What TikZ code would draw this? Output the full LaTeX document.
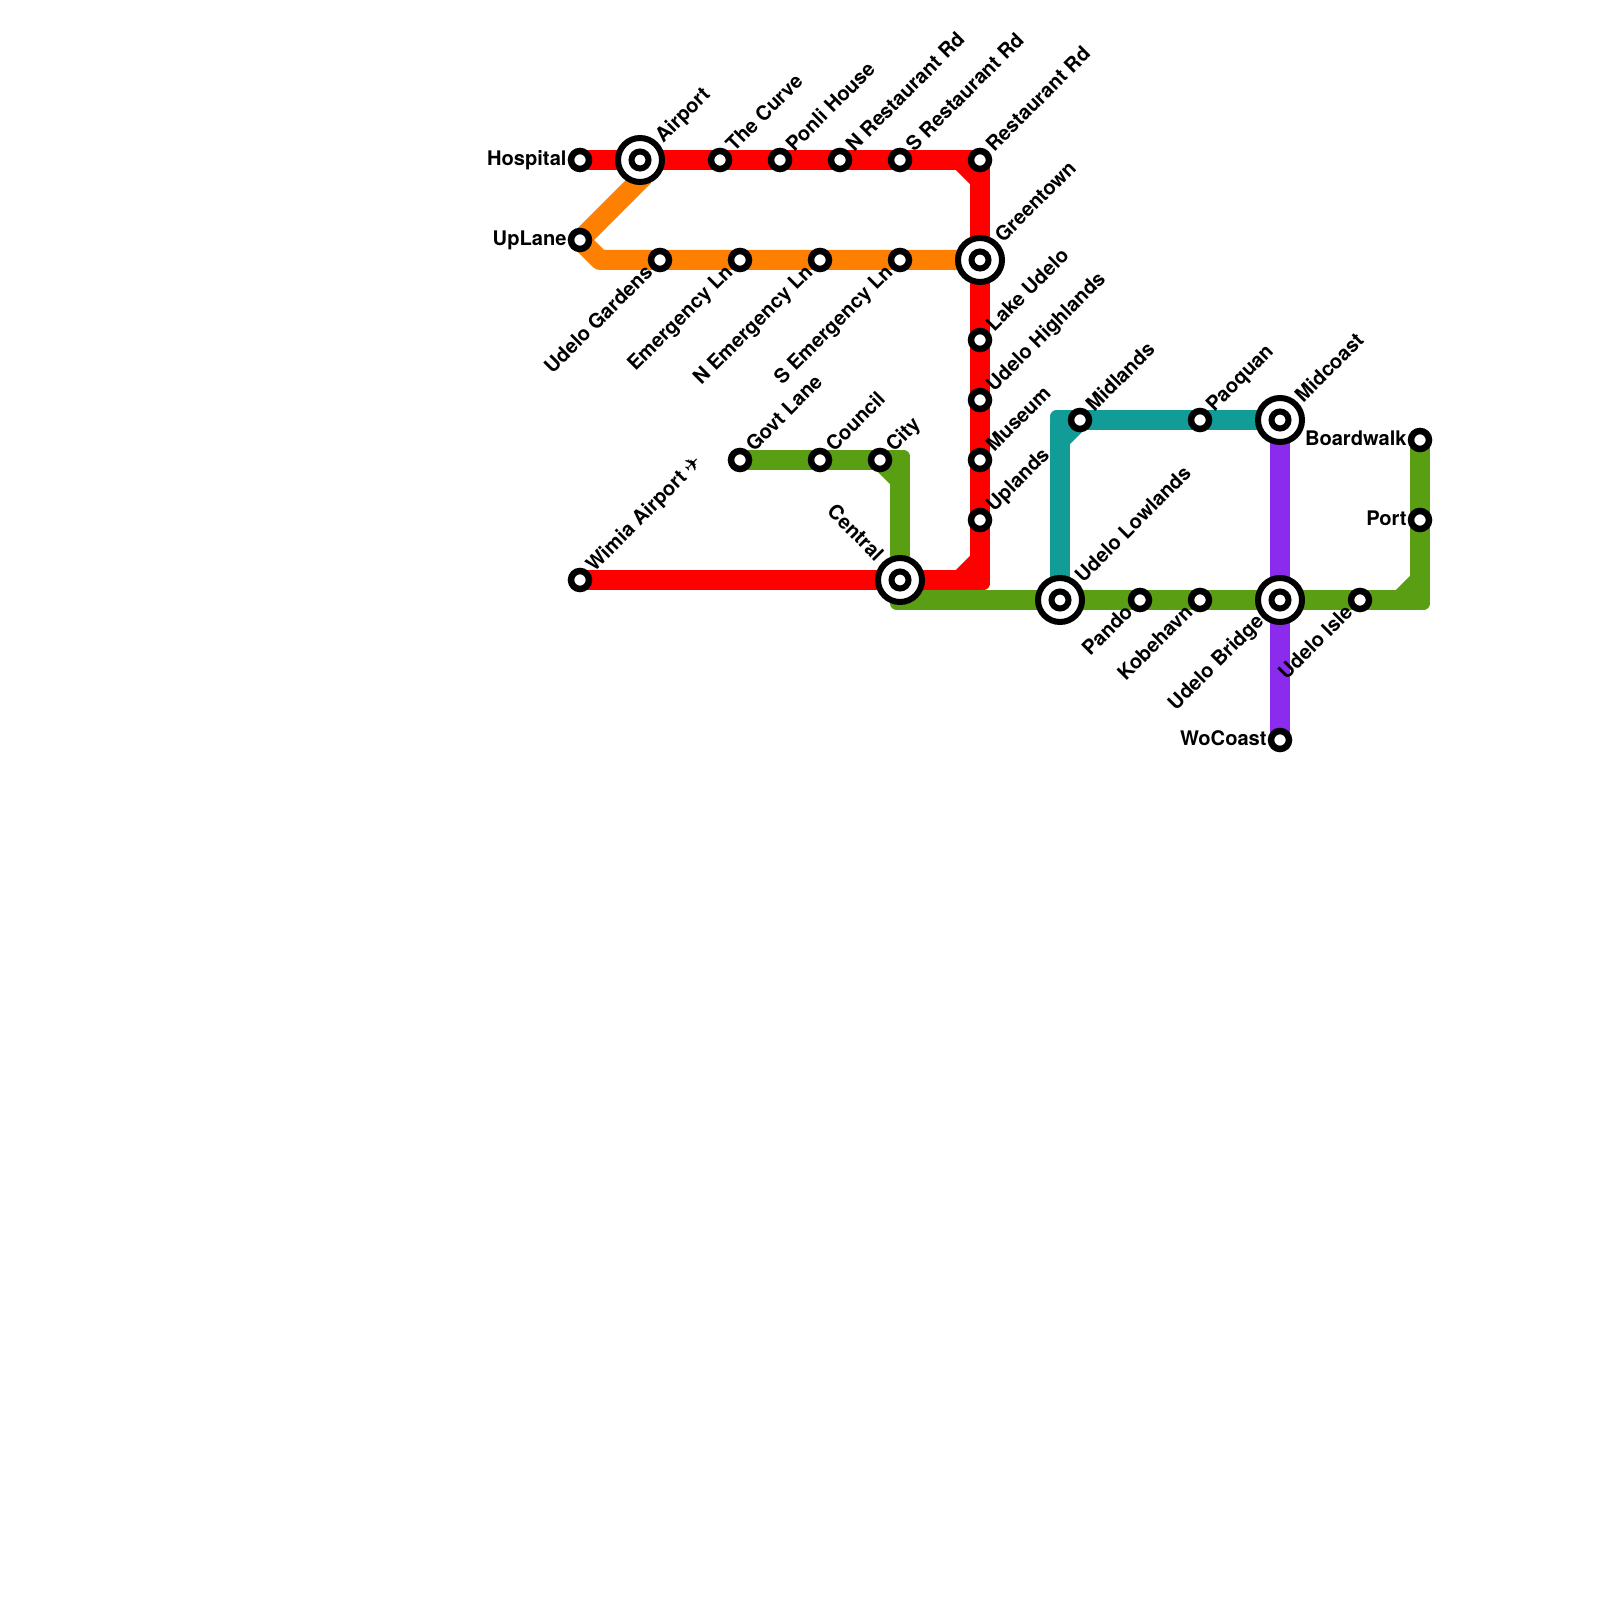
\documentclass[tikz,border=0pt]{standalone}
\usepackage{fontspec}
\setmainfont{TeX Gyre Heros}
\newfontfamily\planefont{DejaVu Sans}
\usetikzlibrary{backgrounds}
\definecolor{redline}{HTML}{FF0000}
\definecolor{orangeline}{HTML}{FF7F00}
\definecolor{greenline}{HTML}{5A9E14}
\definecolor{tealline}{HTML}{119C98}
\definecolor{purpleline}{HTML}{8B2BEE}
\tikzset{
    lbl/.style={font=\fontsize{5.72}{7}\selectfont\bfseries, inner sep=0pt, text height=.145cm, text depth=.042cm},
    stn/.style={circle, draw=black, fill=white, line width=.065cm, minimum size=.18cm, inner sep=0pt},
    hub/.style={circle, draw=black, fill=white, line width=.06cm, minimum size=.44cm, inner sep=0pt,
        path picture={\draw[line width=.06cm] (path picture bounding box.center) circle (.085);}},
    ne/.style={label={[lbl, xshift=.015cm, yshift=.02cm, rotate=45, anchor=west]45:#1}},
    sw/.style={label={[lbl, xshift=-.007cm, yshift=-.008cm, rotate=45, anchor=east]225:#1}},
    nw/.style={label={[lbl, xshift=-.03cm, yshift=.035cm, rotate=-45, anchor=east]135:#1}},
    wt/.style={label={[lbl, xshift=-.005cm, anchor=east]180:#1}},
    metro/.style={line width=.2cm, line join=round}
}
\begin{document}
\begin{tikzpicture}[x=1cm, y=-1cm]
    \useasboundingbox (0,0) rectangle (16,16);

    % Top line
    \node[stn, wt=Hospital] (hospital) at (5.8,1.6) {};
    \node[hub, ne=Airport] (airport) at (6.4,1.6) {};
    \node[stn, ne=The Curve] (curve) at (7.2,1.6) {};
    \node[stn, ne=Ponli House] (ponli) at (7.8,1.6) {};
    \node[stn, ne=N Restaurant Rd] (nrest) at (8.4,1.6) {};
    \node[stn, ne=S Restaurant Rd] (srest) at (9.0,1.6) {};
    \node[stn, ne=Restaurant Rd] (rest) at (9.8,1.6) {};

    % Orange row
    \node[stn, wt=UpLane] (uplane) at (5.8,2.4) {};
    \node[stn, sw=Udelo Gardens] (gardens) at (6.6,2.6) {};
    \node[stn, sw=Emergency Ln] (emerg) at (7.4,2.6) {};
    \node[stn, sw=N Emergency Ln] (nemerg) at (8.2,2.6) {};
    \node[stn, sw=S Emergency Ln] (semerg) at (9.0,2.6) {};
    \node[hub, ne=Greentown] (green) at (9.8,2.6) {};

    % Down the red line
    \node[stn, ne=Lake Udelo] (lake) at (9.8,3.4) {};
    \node[stn, ne=Udelo Highlands] (highlands) at (9.8,4.0) {};
    \node[stn, ne=Museum] (museum) at (9.8,4.6) {};
    \node[stn, ne=Uplands] (uplands) at (9.8,5.2) {};
    \node[stn, ne={Wimia Airport {\planefont ✈}}] (wimia) at (5.8,5.8) {};
    \node[hub, nw=Central] (central) at (9.0,5.8) {};

    % Green row
    \node[stn, ne=Govt Lane] (govt) at (7.4,4.6) {};
    \node[stn, ne=Council] (council) at (8.2,4.6) {};
    \node[stn, ne=City] (city) at (8.8,4.6) {};
    \node[hub, ne=Udelo Lowlands] (lowlands) at (10.6,6.0) {};
    \node[stn, sw=Pando] (pando) at (11.4,6.0) {};
    \node[stn, sw=Kobehavn] (kobe) at (12.0,6.0) {};
    \node[hub, sw=Udelo Bridge] (bridge) at (12.8,6.0) {};
    \node[stn, sw=Udelo Isle] (isle) at (13.6,6.0) {};
    \node[stn, wt=Port] (port) at (14.2,5.2) {};
    \node[stn, wt=Boardwalk] (board) at (14.2,4.4) {};

    % Teal and purple
    \node[stn, ne=Midlands] (midlands) at (10.8,4.2) {};
    \node[stn, ne=Paoquan] (paoquan) at (12.0,4.2) {};
    \node[hub, ne=Midcoast] (midcoast) at (12.8,4.2) {};
    \node[stn, wt=WoCoast] (wocoast) at (12.8,7.4) {};

    % Bends
    \coordinate (orangetop) at (6.44,1.76);
    \coordinate (orangebend) at (6.0,2.6);
    \coordinate (redtop) at (9.8,1.8);
    \coordinate (redtopin) at (9.6,1.6);
    \coordinate (redlow) at (9.8,5.8);
    \coordinate (redlowin) at (9.6,5.8);
    \coordinate (redlowup) at (9.8,5.6);
    \coordinate (greenturn) at (9.0,4.6);
    \coordinate (greenturndown) at (9.0,4.8);
    \coordinate (greenfoot) at (9.0,6.0);
    \coordinate (greenend) at (14.2,6.0);
    \coordinate (greenendin) at (14.0,6.0);
    \coordinate (greenendup) at (14.2,5.8);
    \coordinate (tealturn) at (10.6,4.2);
    \coordinate (tealturndown) at (10.6,4.4);

    % Connections
    \begin{scope}[on background layer]
        \draw[metro, purpleline] (midcoast.center) -- (wocoast.center);
        \draw[metro, tealline] (lowlands.center) -- (tealturn) -- (midcoast.center);
        \draw[metro, tealline] (tealturndown) -- (midlands.center);
        \fill[tealline] ([shift={(-.035,-.035)}]tealturn) circle (.065);
        \draw[metro, greenline] (govt.center) -- (greenturn) -- (greenfoot) -- (greenend) -- (board.center);
        \draw[metro, greenline] (city.center) -- (greenturndown);
        \draw[metro, greenline] (greenendin) -- (greenendup);
        \fill[greenline] ([shift={(.035,-.035)}]greenturn) circle (.065);
        \fill[greenline] ([shift={(-.035,.035)}]greenfoot) circle (.065);
        \fill[greenline] ([shift={(.035,.035)}]greenend) circle (.065);
        \draw[metro, orangeline] (orangetop) -- (uplane.center) -- (orangebend) -- (green.center);
        \draw[metro, redline] (hospital.center) -- (rest.center) -- (redlow) -- (wimia.center);
        \draw[metro, redline] (redtopin) -- (redtop);
        \draw[metro, redline] (redlowin) -- (redlowup);
        \fill[redline] ([shift={(.035,.035)}]redlow) circle (.065);
    \end{scope}
\end{tikzpicture}
\end{document}
